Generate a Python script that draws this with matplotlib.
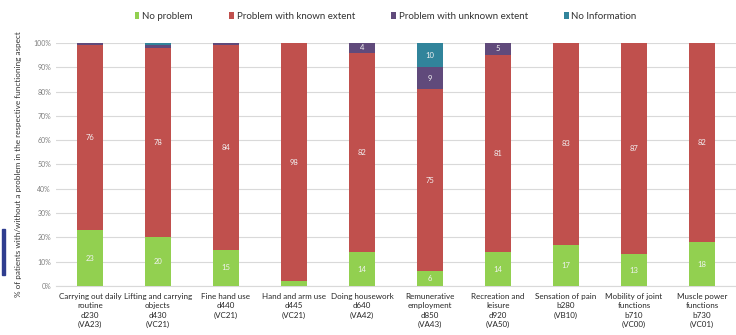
import numpy as np
import matplotlib.pyplot as plt
from matplotlib.patches import Rectangle

plt.rcParams['font.family'] = ['Lato', 'DejaVu Sans']

categories = [
    "Carrying out daily\nroutine\nd230\n(VA23)",
    "Lifting and carrying\nobjects\nd430\n(VC21)",
    "Fine hand use\nd440\n(VC21)",
    "Hand and arm use\nd445\n(VC21)",
    "Doing housework\nd640\n(VA42)",
    "Remunerative\nemployment\nd850\n(VA43)",
    "Recreation and\nleisure\nd920\n(VA50)",
    "Sensation of pain\nb280\n(VB10)",
    "Mobility of joint\nfunctions\nb710\n(VC00)",
    "Muscle power\nfunctions\nb730\n(VC01)",
]
no_problem = [23, 20, 15, 2, 14, 6, 14, 17, 13, 18]
known_extent = [76, 78, 84, 98, 82, 75, 81, 83, 87, 82]
unknown_extent = [1, 1, 1, 0, 4, 9, 5, 0, 0, 0]
no_info = [0, 1, 0, 0, 0, 10, 0, 0, 0, 0]

series = [
    ("No problem", no_problem, "#92d050"),
    ("Problem with known extent", known_extent, "#c0504d"),
    ("Problem with unknown extent", unknown_extent, "#604a7b"),
    ("No Information", no_info, "#31849b"),
]

fig = plt.figure(figsize=(7.36, 3.35), dpi=100)
ax = fig.add_axes([0.076, 0.146, 0.924, 0.726])

x = np.arange(len(categories))
bottom = np.zeros(len(categories))
for name, vals, col in series:
    vals = np.array(vals, dtype=float)
    ax.bar(x, vals, 0.38, bottom=bottom, color=col, label=name, zorder=3)
    for xi, b, v in zip(x, bottom, vals):
        if v >= 4:
            ax.text(xi, b + v / 2, f"{v:.0f}", ha='center', va='center',
                    fontsize=5.5, color='#f2f2f2', zorder=4)
    bottom += vals

ax.set_xlim(-0.5, len(categories) - 0.5)
ax.set_ylim(0, 100)
ax.set_yticks(np.arange(0, 101, 10))
ax.set_yticklabels([f"{v}%" for v in range(0, 101, 10)], fontsize=5, color='#7f7f7f')
ax.yaxis.grid(True, color='#d9d9d9', linewidth=0.8, zorder=0)
ax.set_xticks(x)
ax.set_xticklabels(categories, fontsize=5.8, color='#262626', linespacing=1.38)
ax.tick_params(axis='both', length=0)
ax.tick_params(axis='x', pad=5)
for s in ['top', 'right', 'left']:
    ax.spines[s].set_visible(False)
ax.spines['bottom'].set_color('#d9d9d9')
ax.set_ylabel("% of patients with/without a problem in the respective functioning aspect",
              fontsize=5.9, color='#333333', labelpad=8)

fig.legend(loc='center', bbox_to_anchor=(0.524, 0.95), ncol=4, frameon=False,
           fontsize=7, handlelength=0.5, handleheight=0.7, handletextpad=0.3,
           columnspacing=3.7, labelcolor='#333333')

# dark marker strip at the left edge
fig.patches.append(Rectangle((0.003, 0.18), 0.004, 0.135, transform=fig.transFigure,
                             color='#2f3d8f', zorder=5))

fig.savefig("out.png", dpi=100)
